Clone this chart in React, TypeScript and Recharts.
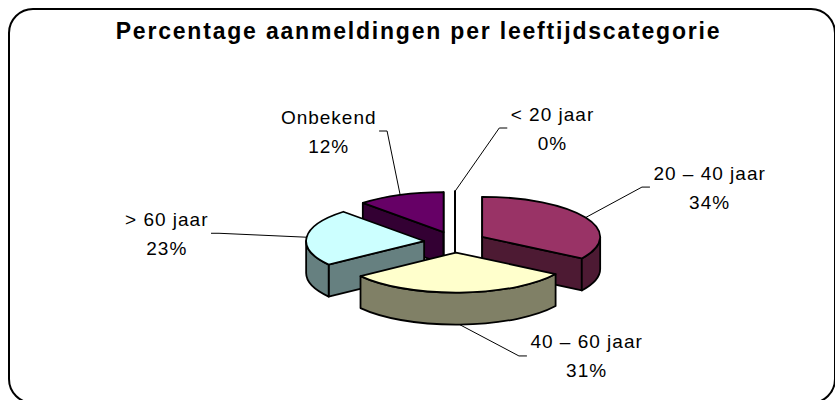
import React from 'react';
import { PieChart, Pie } from 'recharts';

// ---------- data ----------
const categories: string[] = ['< 20 jaar', '20 – 40 jaar', '40 – 60 jaar', '> 60 jaar', 'Onbekend'];
const percentages: number[] = [0, 34, 31, 23, 12];
const title = 'Percentage aanmeldingen per leeftijdscategorie';

// ---------- styling ----------
const topColors = ['#9999FF', '#993366', '#FFFFCC', '#CCFFFF', '#660066'];
const sideColors = ['#4D4D80', '#4D1A33', '#808066', '#668080', '#330033'];
// label nudges (Excel moved some labels sideways)
const labelNudge: Record<string, [number, number]> = {
  '< 20 jaar': [97, 0],
  '20 – 40 jaar': [0, 0],
  '40 – 60 jaar': [122, 0],
  '> 60 jaar': [0, 2],
  'Onbekend': [-20, -5],
};

const W = 835;
const H = 400;
const CX = 455;
const CY = 242;
const RX = 118;
const TILT = 0.34; // ry / rx
const EXPLODE = 31;
const DEPTH = 32;
const LABEL_RX = 290;
const LABEL_RY = 114;
const FONT = "'Liberation Sans', Arial, sans-serif";
const LABEL_SIZE = 19;
const LABEL_SPACING = 1;

const tableData = categories.map((name, i) => ({ name, value: percentages[i] }));

// drawing order: back slices first (computed from the values' mid angles)
const total = percentages.reduce((s, v) => s + v, 0);
const midSin: number[] = [];
{
  let cum = 0;
  percentages.forEach((v) => {
    const m = 90 - (360 * (cum + v / 2)) / total;
    midSin.push(Math.sin((m * Math.PI) / 180));
    cum += v;
  });
}
const drawOrder = categories.map((_, i) => i).sort((a, b) => midSin[b] - midSin[a]);

const rad = (d: number) => (d * Math.PI) / 180;
const pt = (x: number, y: number, rx: number, ry: number, a: number): [number, number] => [
  x + rx * Math.cos(rad(a)),
  y - ry * Math.sin(rad(a)),
];
const f = (p: [number, number]) => `${p[0].toFixed(2)} ${p[1].toFixed(2)}`;

let measureCtx: CanvasRenderingContext2D | null = null;
const measure = (text: string) => {
  if (!measureCtx) {
    const c = document.createElement('canvas');
    measureCtx = c.getContext('2d');
  }
  if (!measureCtx) return text.length * LABEL_SIZE * 0.55;
  measureCtx.font = `${LABEL_SIZE}px ${FONT}`;
  return measureCtx.measureText(text).width + text.length * LABEL_SPACING;
};

const STROKE = 1.8;

const sliceRenderer = (rank: number) => (props: any) => {
  const { index, cx, cy, outerRadius, startAngle, endAngle } = props;
  if (index !== drawOrder[rank]) return <g key={`s${index}`} />;
  const rx = outerRadius;
  const ry = rx * TILT;
  const a1 = Math.max(startAngle, endAngle);
  const a2 = Math.min(startAngle, endAngle);
  const mid = (a1 + a2) / 2;
  const px = cx + EXPLODE * Math.cos(rad(mid));
  const py = cy - EXPLODE * TILT * Math.sin(rad(mid));
  const P: [number, number] = [px, py];
  const down = (p: [number, number]): [number, number] => [p[0], p[1] + DEPTH];
  const top = topColors[index];
  const side = sideColors[index];
  const parts: React.ReactNode[] = [];

  // radial faces
  const faces: number[] = [];
  if (Math.cos(rad(a1)) <= 1e-6) faces.push(a1);
  if (Math.cos(rad(a2)) >= -1e-6) faces.push(a2);
  faces.forEach((a, k) => {
    const O = pt(px, py, rx, ry, a);
    parts.push(
      <path
        key={`r${k}`}
        d={`M ${f(P)} L ${f(O)} L ${f(down(O))} L ${f(down(P))} Z`}
        fill={side}
        stroke="#000"
        strokeWidth={STROKE}
        strokeLinejoin="round"
      />
    );
  });

  // outer (front) wall
  for (let k = -1; k <= 1; k++) {
    const lo = Math.max(a2, -180 + 360 * k);
    const hi = Math.min(a1, 360 * k);
    if (hi - lo > 1e-6) {
      const A = pt(px, py, rx, ry, hi);
      const B = pt(px, py, rx, ry, lo);
      parts.push(
        <path
          key={`w${k}`}
          d={`M ${f(A)} A ${rx} ${ry} 0 0 1 ${f(B)} L ${f(down(B))} A ${rx} ${ry} 0 0 0 ${f(down(A))} Z`}
          fill={side}
          stroke="#000"
          strokeWidth={STROKE}
          strokeLinejoin="round"
        />
      );
    }
  }

  // top face
  const S = pt(px, py, rx, ry, a1);
  const E = pt(px, py, rx, ry, a2);
  const large = a1 - a2 > 180 ? 1 : 0;
  const arc = a1 - a2 > 1e-6 ? ` A ${rx} ${ry} 0 ${large} 1 ${f(E)}` : '';
  parts.push(
    <path
      key="t"
      d={`M ${f(P)} L ${f(S)}${arc} Z`}
      fill={top}
      stroke="#000"
      strokeWidth={STROKE}
      strokeLinejoin="round"
    />
  );
  return <g key={`s${index}`}>{parts}</g>;
};

const labelRenderer = (props: any) => {
  const { index, cx, cy, outerRadius, startAngle, endAngle, name, value } = props;
  const rx = outerRadius;
  const ry = rx * TILT;
  const mid = (startAngle + endAngle) / 2;
  const c = Math.cos(rad(mid));
  const s = Math.sin(rad(mid));
  const px = cx + EXPLODE * c;
  const py = cy - EXPLODE * TILT * s;
  const ax = px + rx * c;
  const ay = py - ry * s + DEPTH * Math.max(0, -s);
  const nudge = labelNudge[name] || [0, 0];
  const lx = cx + LABEL_RX * c + nudge[0];
  const ly = cy - LABEL_RY * s + nudge[1];
  const pctText = `${value}%`;
  const w = Math.max(measure(name), measure(pctText));
  const right = lx > ax;
  const tickEnd = right ? lx - w / 2 - 3 : lx + w / 2 + 3;
  const elbow = right ? tickEnd - 8 : tickEnd + 8;
  return (
    <g key={`l${index}`}>
      <path
        d={`M ${ax.toFixed(2)} ${ay.toFixed(2)} L ${elbow.toFixed(2)} ${ly.toFixed(2)} L ${tickEnd.toFixed(2)} ${ly.toFixed(2)}`}
        fill="none"
        stroke="#000"
        strokeWidth={1}
      />
      <text
        x={lx + LABEL_SPACING / 2}
        y={ly - 14.5 + 7}
        textAnchor="middle"
        fontFamily={FONT}
        fontSize={LABEL_SIZE}
        letterSpacing={LABEL_SPACING}
        fill="#000"
      >
        {name}
      </text>
      <text
        x={lx + LABEL_SPACING / 2}
        y={ly + 14.5 + 7}
        textAnchor="middle"
        fontFamily={FONT}
        fontSize={LABEL_SIZE}
        letterSpacing={LABEL_SPACING}
        fill="#000"
      >
        {pctText}
      </text>
    </g>
  );
};

const pieCommon = {
  data: tableData,
  dataKey: 'value',
  nameKey: 'name',
  cx: CX,
  cy: CY,
  outerRadius: RX,
  startAngle: 90,
  endAngle: -270,
  isAnimationActive: false,
  fill: 'none',
  stroke: 'none',
  labelLine: false,
};

export default function App() {
  return (
    <div style={{ position: 'absolute', left: 0, top: 0, width: W, height: H, overflow: 'hidden', background: '#fff' }}>
      <div
        style={{
          position: 'absolute',
          left: 8,
          top: 8,
          width: 824,
          height: 392,
          border: '2px solid #000',
          borderRadius: 25,
        }}
      />
      <div
        style={{
          position: 'absolute',
          left: 1,
          top: 20,
          width: W,
          textAlign: 'center',
          fontFamily: FONT,
          fontWeight: 'bold',
          fontSize: 23,
          lineHeight: '22px',
          letterSpacing: 1.8,
          whiteSpace: 'nowrap',
          color: '#000',
        }}
      >
        {title}
      </div>
      <div style={{ position: 'absolute', left: 0, top: 0 }}>
        <PieChart width={W} height={H} margin={{ top: 0, right: 0, bottom: 0, left: 0 }}>
          {drawOrder.map((_, rank) => (
            <Pie key={`p${rank}`} {...(pieCommon as any)} label={sliceRenderer(rank)} />
          ))}
          <Pie key="labels" {...(pieCommon as any)} label={labelRenderer} />
        </PieChart>
      </div>
    </div>
  );
}
